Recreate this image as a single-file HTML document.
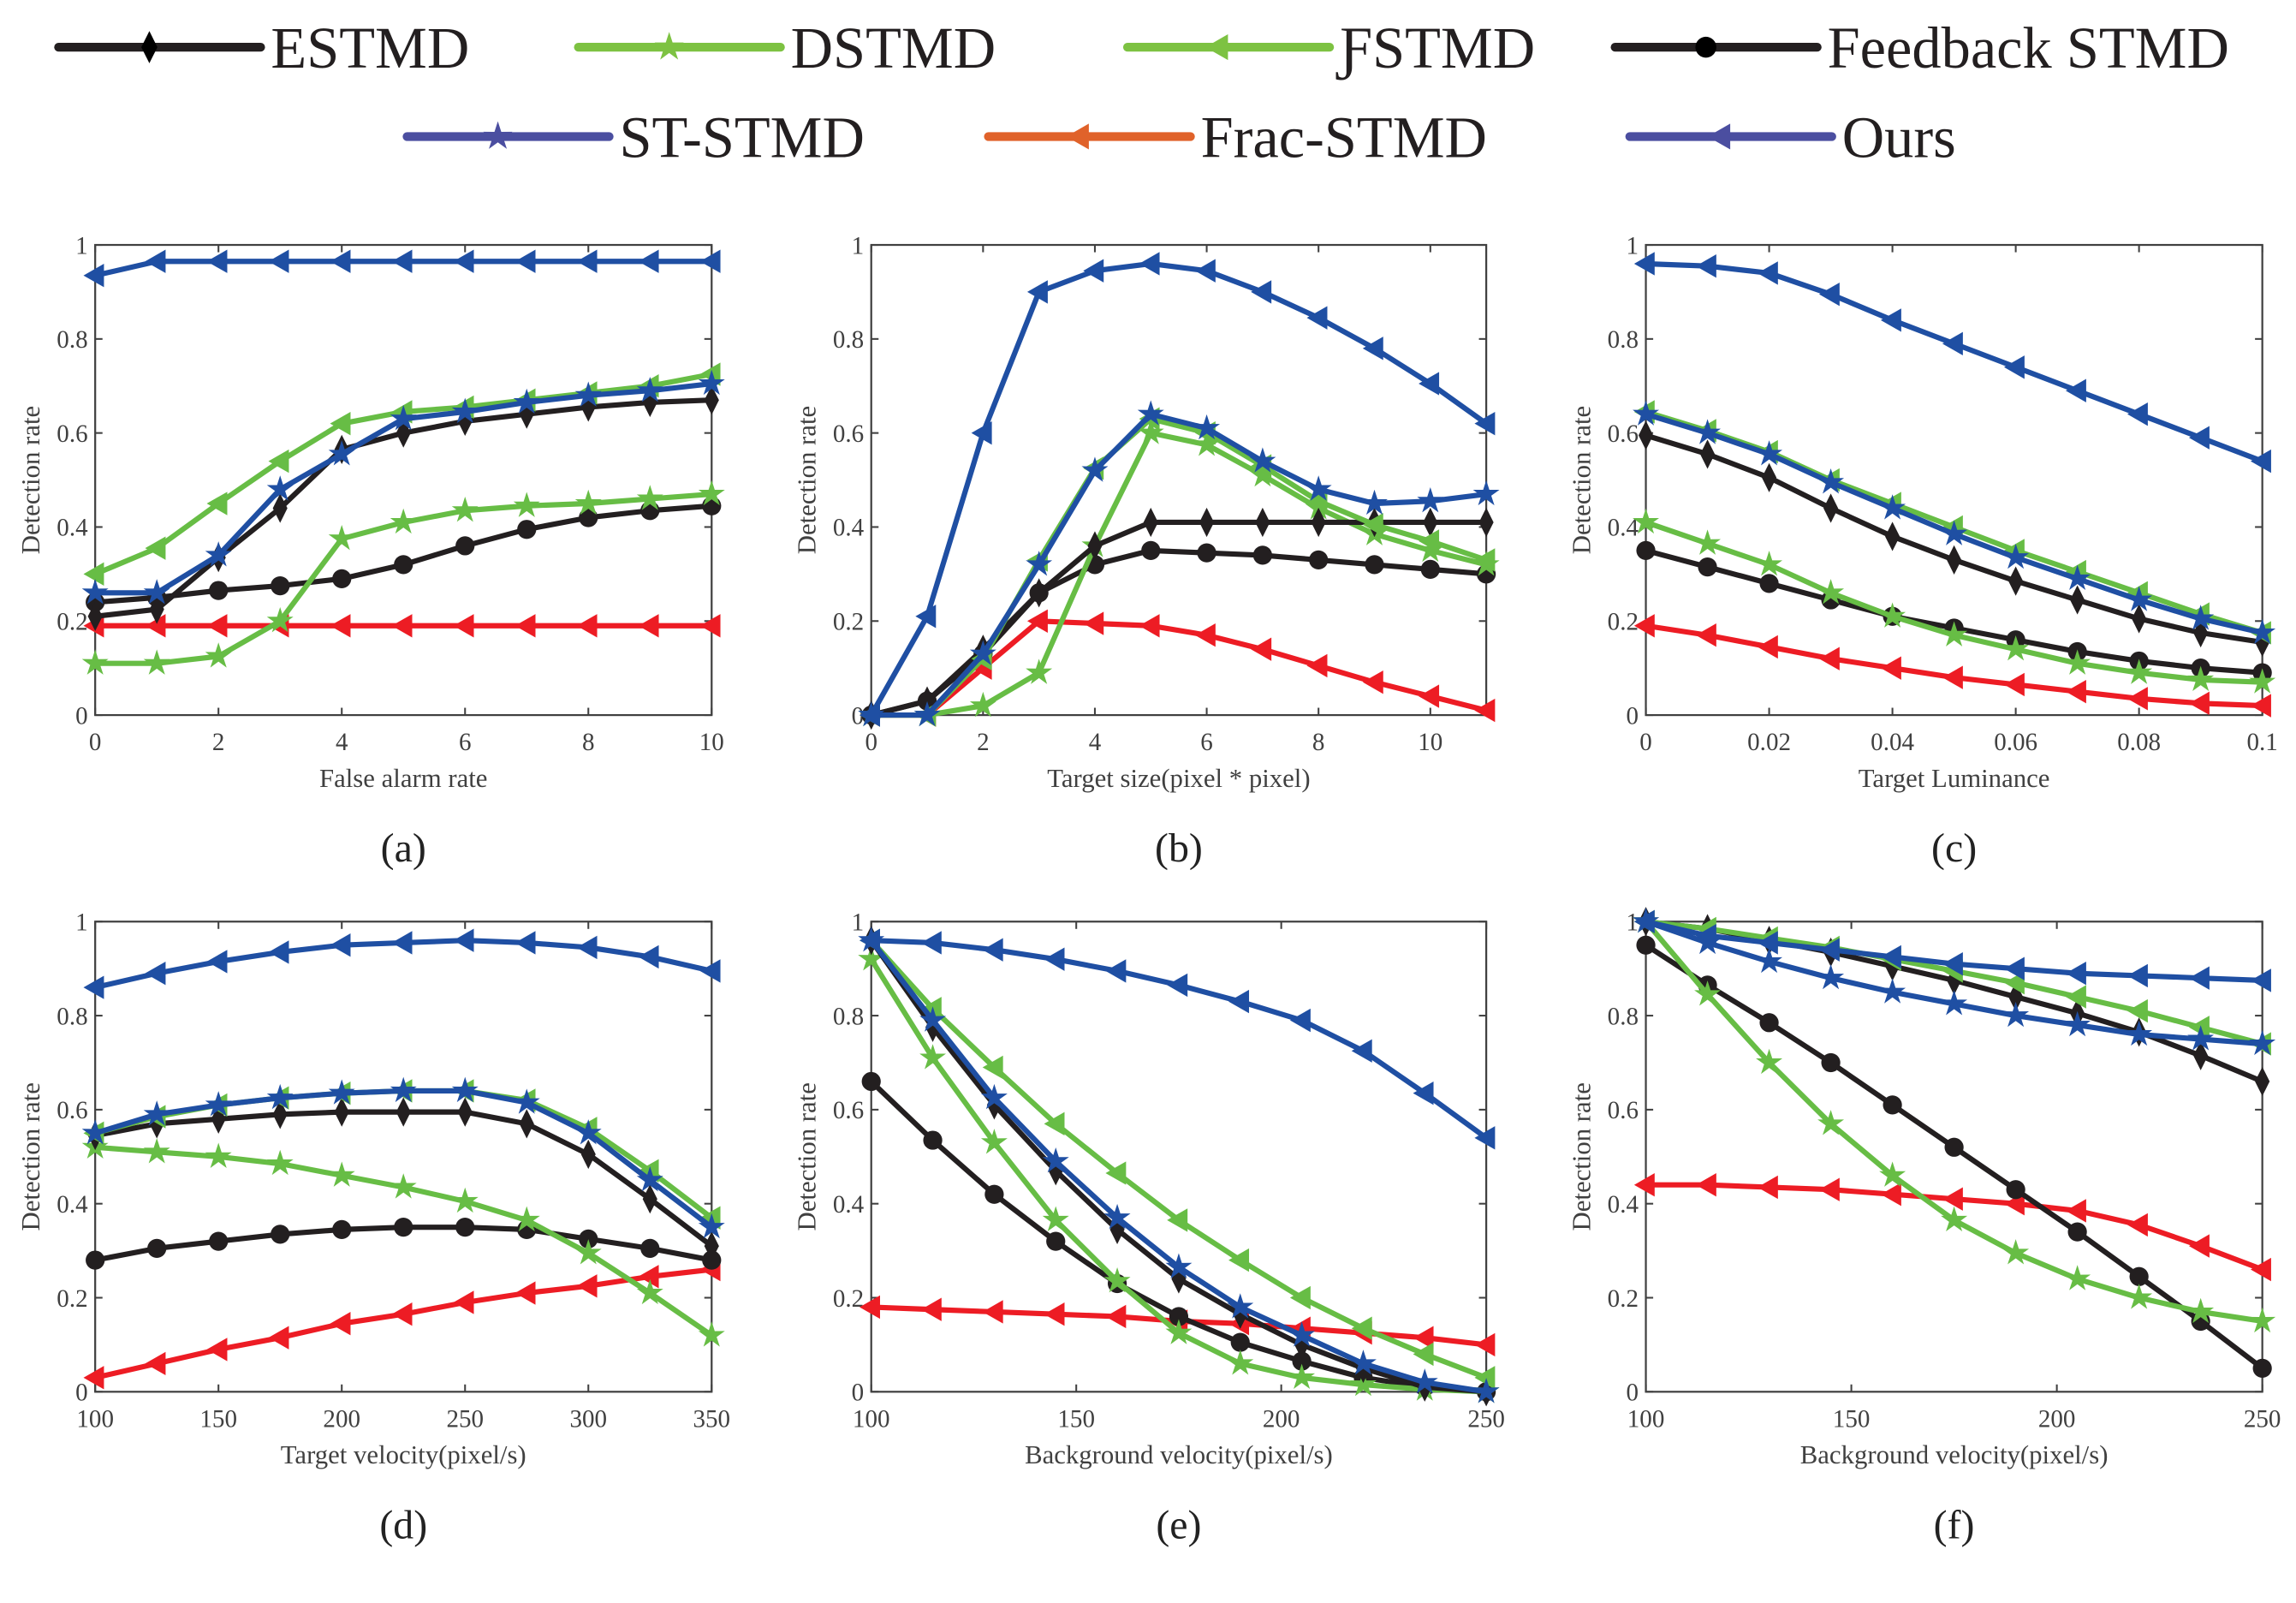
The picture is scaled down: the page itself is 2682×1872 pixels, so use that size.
<!DOCTYPE html>
<html><head><meta charset="utf-8"><style>
html,body{margin:0;padding:0;background:#fff;}
svg{display:block;}
text{font-family:"Liberation Serif",serif;}
</style></head><body>
<svg id="fig" width="2682" height="1872" viewBox="0 0 1568 1094" xmlns="http://www.w3.org/2000/svg"></svg>
<script>
const NS="http://www.w3.org/2000/svg";
const svg=document.getElementById('fig');
const seriesNames=["Frac-STMD","Feedback STMD","DSTMD","ESTMD","ƑSTMD","ST-STMD","Ours"];
// panel a: False alarm rate 0..10
const xA=[0,1,2,3,4,5,6,7,8,9,10];
const aOurs=[.935,.965,.965,.965,.965,.965,.965,.965,.965,.965,.965];
const aFrac=[.19,.19,.19,.19,.19,.19,.19,.19,.19,.19,.19];
const aF=[.30,.355,.45,.54,.62,.645,.655,.67,.685,.70,.725];
const aST=[.26,.26,.34,.48,.555,.63,.645,.665,.68,.69,.705];
const aE=[.21,.225,.335,.44,.565,.60,.625,.64,.655,.665,.67];
const aD=[.11,.11,.125,.20,.375,.41,.435,.445,.45,.46,.47];
const aFb=[.24,.25,.265,.275,.29,.32,.36,.395,.42,.435,.445];
// panel b: target size 0..11
const xB=[0,1,2,3,4,5,6,7,8,9,10,11];
const bOurs=[0,.21,.60,.90,.945,.96,.945,.90,.845,.78,.705,.62];
const bST=[0,0,.13,.32,.52,.64,.61,.54,.48,.45,.455,.47];
const bF=[0,0,.12,.33,.525,.63,.60,.53,.455,.405,.37,.33];
const bD=[0,0,.02,.09,.36,.60,.575,.51,.44,.385,.35,.32];
const bE=[0,.03,.14,.26,.36,.41,.41,.41,.41,.41,.41,.41];
const bFb=[0,.03,.13,.26,.32,.35,.345,.34,.33,.32,.31,.30];
const bFrac=[0,0,.10,.20,.195,.19,.17,.14,.105,.07,.04,.01];
// panel c: target luminance
const xC=[0,.01,.02,.03,.04,.05,.06,.07,.08,.09,.1];
const cOurs=[.96,.955,.94,.895,.84,.79,.74,.69,.64,.59,.54];
const cST=[.64,.60,.555,.495,.44,.385,.335,.29,.245,.205,.175];
const cF=[.645,.605,.56,.50,.45,.40,.35,.305,.26,.215,.175];
const cE=[.595,.555,.505,.44,.38,.33,.285,.245,.205,.175,.155];
const cD=[.41,.365,.32,.26,.21,.17,.14,.11,.09,.075,.07];
const cFb=[.35,.315,.28,.245,.21,.185,.16,.135,.115,.10,.09];
const cFrac=[.19,.17,.145,.12,.10,.08,.065,.05,.035,.025,.02];
// panel d: target velocity
const xD=[100,125,150,175,200,225,250,275,300,325,350];
const dOurs=[.86,.89,.915,.935,.95,.955,.96,.955,.945,.925,.895];
const dST=[.55,.59,.61,.625,.635,.64,.64,.615,.55,.45,.35];
const dF=[.55,.585,.61,.625,.635,.64,.64,.62,.56,.47,.37];
const dE=[.545,.57,.58,.59,.595,.595,.595,.57,.505,.41,.31];
const dD=[.52,.51,.50,.485,.46,.435,.405,.365,.295,.21,.12];
const dFb=[.28,.305,.32,.335,.345,.35,.35,.345,.325,.305,.28];
const dFrac=[.03,.06,.09,.115,.145,.165,.19,.21,.225,.245,.26];
// panel e: background velocity
const xE=[100,115,130,145,160,175,190,205,220,235,250];
const eOurs=[.96,.955,.94,.92,.895,.865,.83,.79,.725,.635,.54];
const eST=[.96,.79,.625,.49,.37,.265,.18,.12,.06,.02,0];
const eF=[.96,.815,.69,.57,.465,.365,.28,.2,.135,.08,.03];
const eE=[.96,.775,.61,.47,.345,.24,.165,.1,.05,.01,0];
const eD=[.92,.71,.53,.365,.235,.125,.06,.03,.015,.005,0];
const eFb=[.66,.535,.42,.32,.23,.16,.105,.065,.03,.01,0];
const eFrac=[.18,.175,.17,.165,.16,.15,.145,.135,.125,.115,.10];
// panel f: background velocity
const fOurs=[1,.97,.955,.94,.925,.91,.90,.89,.885,.88,.875];
const fST=[1,.955,.915,.88,.85,.825,.80,.78,.76,.75,.74];
const fF=[1,.985,.965,.945,.92,.895,.87,.84,.81,.775,.74];
const fE=[1,.985,.96,.935,.905,.875,.84,.805,.765,.715,.66];
const fD=[1,.845,.70,.57,.46,.365,.295,.24,.2,.17,.15];
const fFb=[.95,.865,.785,.70,.61,.52,.43,.34,.245,.15,.05];
const fFrac=[.44,.44,.435,.43,.42,.41,.4,.385,.355,.31,.26];
const yTicks=[0,.2,.4,.6,.8,1];
const yTickLabels=["0","0.2","0.4","0.6","0.8","1"];
const ticksA=[0,2,4,6,8,10], ticksB=[0,2,4,6,8,10], ticksC=[0,.02,.04,.06,.08,.1];
const ticksC_lab=["0","0.02","0.04","0.06","0.08","0.1"];
const ticksV=[100,150,200,250,300,350], ticksBG=[100,150,200,250];

const BLACK="#231f20",GREEN="#67bd45",BLUE="#1f4fa3",RED="#ed1c24";
const style={"Ours":[BLUE,"tri"],"ST-STMD":[BLUE,"star"],"ƑSTMD":[GREEN,"tri"],"DSTMD":[GREEN,"star"],"ESTMD":[BLACK,"diamond"],"Feedback STMD":[BLACK,"circle"],"Frac-STMD":[RED,"tri"]};

function el(tag,attrs,parent){const e=document.createElementNS(NS,tag);for(const k in attrs)e.setAttribute(k,attrs[k]);(parent||svg).appendChild(e);return e;}
function marker(g,shape,x,y,c,s){
  s=s||1;
  let m;
  if(shape==="tri") m=el('polygon',{points:`${x-8*s},${y} ${x+6*s},${y-8*s} ${x+6*s},${y+8*s}`,fill:c},g);
  else if(shape==="circle") m=el('circle',{cx:x,cy:y,r:6.5*s,fill:c},g);
  else if(shape==="diamond") m=el('polygon',{points:`${x},${y-10*s} ${x+5*s},${y} ${x},${y+10*s} ${x-5*s},${y}`,fill:c},g);
  else { let p=[];for(let i=0;i<10;i++){const r=(i%2?3.6:9.5)*s,a=-Math.PI/2+i*Math.PI/5;p.push((x+r*Math.cos(a)).toFixed(2)+","+(y+r*Math.sin(a)).toFixed(2));}
    m=el('polygon',{points:p.join(" "),fill:c},g);}
  return m;
}
function panel(id,x0,x1,y0,y1,xmin,xmax,xt,xtl,xlabel,xs,series,letter){
  const g=el('g',{});
  
  
  const sx=v=>x0+(v-xmin)/(xmax-xmin)*(x1-x0);
  const sy=v=>y1-v*(y1-y0);
  el('rect',{x:x0,y:y0,width:x1-x0,height:y1-y0,fill:"#fff",stroke:"#404040","stroke-width":1.3},g);
  xt.forEach((t,i)=>{
    el('line',{x1:sx(t),x2:sx(t),y1:y1,y2:y1-5,stroke:"#404040","stroke-width":1.2},g);
    el('line',{x1:sx(t),x2:sx(t),y1:y0,y2:y0+5,stroke:"#404040","stroke-width":1.2},g);
    const tl=el('text',{x:sx(t),y:y1+24,"text-anchor":"middle","font-size":17,fill:"#404040"},g);tl.textContent=xtl[i];
    
    
  });
  yTicks.forEach((t,i)=>{
    el('line',{x1:x0,x2:x0+5,y1:sy(t),y2:sy(t),stroke:"#404040","stroke-width":1.2},g);
    el('line',{x1:x1,x2:x1-5,y1:sy(t),y2:sy(t),stroke:"#404040","stroke-width":1.2},g);
    const tl=el('text',{x:x0-5,y:sy(t)+6,"text-anchor":"end","font-size":17,fill:"#404040"},g);tl.textContent=yTickLabels[i];
    
    
  });
  const xl=el('text',{x:(x0+x1)/2,y:y1+49,"text-anchor":"middle","font-size":18,fill:"#404040"},g);xl.textContent=xlabel;
  
  
  const yl=el('text',{x:0,y:0,"text-anchor":"middle","font-size":18,fill:"#404040",transform:`translate(${x0-38},${(y0+y1)/2}) rotate(-90)`},g);yl.textContent="Detection rate";
  
  
  const cap=el('text',{x:(x0+x1)/2,y:y1+100,"text-anchor":"middle","font-size":28,fill:"#222"},g);cap.textContent="("+letter+")";
  
  
  series.forEach(([name,vals])=>{
    const [c,sh]=style[name];
    const sg=el('g',{},g);
    
    
    const pts=vals.map((v,i)=>sx(xs[i]).toFixed(2)+","+sy(v).toFixed(2)).join(" ");
    const pl=el('polyline',{points:pts,fill:"none",stroke:c,"stroke-width":3.6,"stroke-linejoin":"round"},sg);
    
    
    vals.forEach((v,i)=>{const m=marker(sg,sh,sx(xs[i]),sy(v),c);
      
      });
  });
}
const X=[[65,486],[595,1015],[1124,1545]];
const R1=[167,488],R2=[629,950];
panel("a",X[0][0],X[0][1],R1[0],R1[1],0,10,ticksA,ticksA.map(String),"False alarm rate",xA,
 [["Frac-STMD",aFrac],["Feedback STMD",aFb],["DSTMD",aD],["ESTMD",aE],["ƑSTMD",aF],["ST-STMD",aST],["Ours",aOurs]],"a");
panel("b",X[1][0],X[1][1],R1[0],R1[1],0,11,ticksB,ticksB.map(String),"Target size(pixel * pixel)",xB,
 [["Frac-STMD",bFrac],["Feedback STMD",bFb],["DSTMD",bD],["ESTMD",bE],["ƑSTMD",bF],["ST-STMD",bST],["Ours",bOurs]],"b");
panel("c",X[2][0],X[2][1],R1[0],R1[1],0,.1,ticksC,ticksC_lab,"Target Luminance",xC,
 [["Frac-STMD",cFrac],["Feedback STMD",cFb],["DSTMD",cD],["ESTMD",cE],["ƑSTMD",cF],["ST-STMD",cST],["Ours",cOurs]],"c");
panel("d",X[0][0],X[0][1],R2[0],R2[1],100,350,ticksV,ticksV.map(String),"Target velocity(pixel/s)",xD,
 [["Frac-STMD",dFrac],["Feedback STMD",dFb],["DSTMD",dD],["ESTMD",dE],["ƑSTMD",dF],["ST-STMD",dST],["Ours",dOurs]],"d");
panel("e",X[1][0],X[1][1],R2[0],R2[1],100,250,ticksBG,ticksBG.map(String),"Background velocity(pixel/s)",xE,
 [["Frac-STMD",eFrac],["Feedback STMD",eFb],["DSTMD",eD],["ESTMD",eE],["ƑSTMD",eF],["ST-STMD",eST],["Ours",eOurs]],"e");
panel("f",X[2][0],X[2][1],R2[0],R2[1],100,250,ticksBG,ticksBG.map(String),"Background velocity(pixel/s)",xE,
 [["Frac-STMD",fFrac],["Feedback STMD",fFb],["DSTMD",fD],["ESTMD",fE],["ƑSTMD",fF],["ST-STMD",fST],["Ours",fOurs]],"f");

// legend
const LG=[["ESTMD",BLACK,"diamond",40,32,"ESTMD"],["DSTMD","#7dc242","star",395,32,"DSTMD"],["ƑSTMD","#7dc242","tri",770,32,"ƑSTMD"],["Feedback STMD",BLACK,"circle",1103,32,"Feedback STMD"],
 ["ST-STMD","#4b4ea0","star",278,93,"ST-STMD"],["Frac-STMD","#e0622a","tri",675,93,"Frac-STMD"],["Ours","#4b4ea0","tri",1113,93,"Ours"]];
const lg=el('g',{});


LG.forEach(([n,c,sh,x,y,lab])=>{
  const e=el('g',{},lg);
  
  
  el('line',{x1:x,x2:x+138,y1:y,y2:y,stroke:c,"stroke-width":6,"stroke-linecap":"round"},e);
  marker(e,sh,x+62,y,sh==="diamond"||sh==="circle"?"#000":c,1.1);
  const t=el('text',{x:x+145,y:y+14,"font-size":40,fill:"#231f20"},e);t.textContent=lab;
});
</script>
</body></html>
